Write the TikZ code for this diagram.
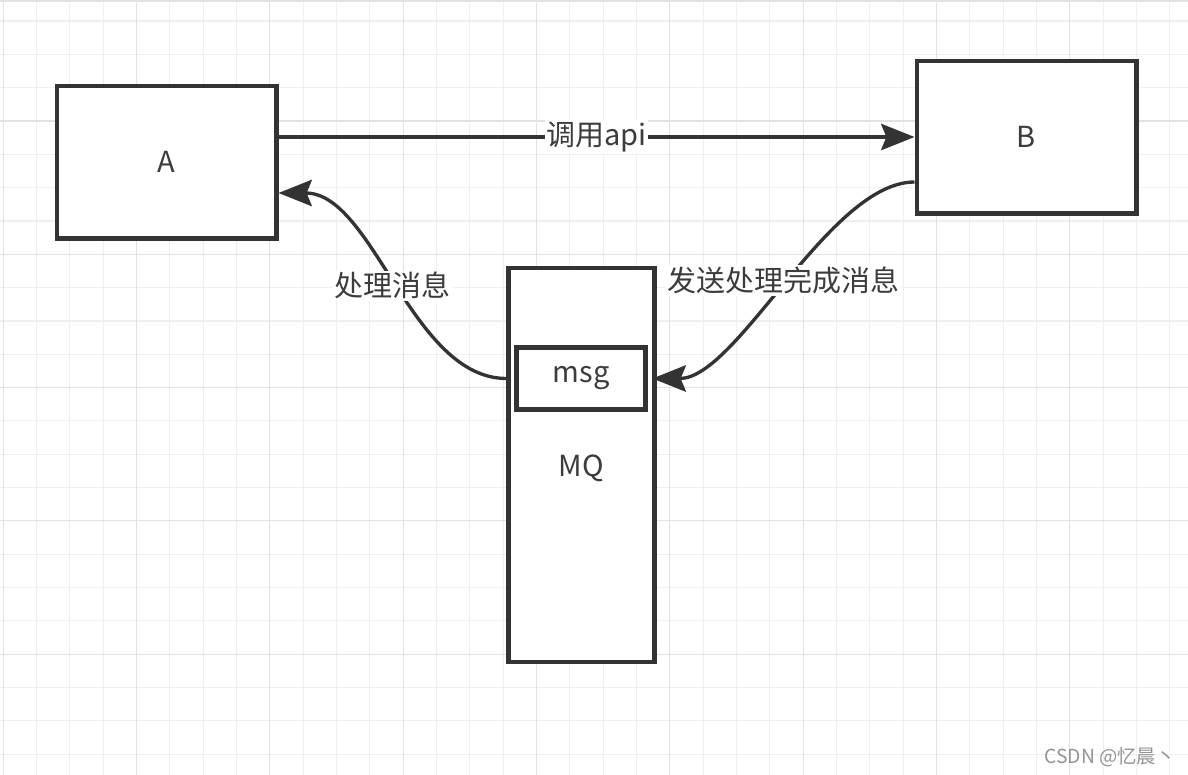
\documentclass[tikz,border=0pt]{standalone}
\usepackage{fontspec}
\setmainfont{Noto Sans CJK SC}
\usepackage{xcolor}
\usetikzlibrary{arrows.meta, positioning, calc}
\definecolor{ink}{HTML}{333333}
\definecolor{inktext}{HTML}{3C3C3C}
\definecolor{gridminor}{HTML}{EFEFEF}
\definecolor{gridmajor}{HTML}{E2E2E2}

\begin{document}
\begin{tikzpicture}[
    x=0.02cm, y=-0.02cm,
    box/.style={draw=ink, line width=2.3pt, fill=white, text=inktext, inner sep=0pt, font=\fontsize{16.5}{19}\selectfont},
    arrow/.style={draw=ink, line width=1.9pt, -{Stealth[length=19pt, width=15pt, inset=3pt]}},
    edgelabel/.style={fill=white, text=inktext, inner sep=1pt, font=\fontsize{16.5}{19}\selectfont},
    minorline/.style={draw=gridminor, line width=0.6pt},
    majorline/.style={draw=gridmajor, line width=0.6pt}
]

% page and background grid
\fill[white] (0,0) rectangle (1188,775);
\useasboundingbox (0,0) rectangle (1188,775);
\foreach \k in {0,...,35} \draw[minorline] (3.3+33.33*\k,0) -- (3.3+33.33*\k,775);
\foreach \k in {0,...,22} \draw[minorline] (0,21+33.33*\k) -- (1188,21+33.33*\k);
\foreach \k in {0,4,...,32} \draw[majorline] (3.3+33.33*\k,0) -- (3.3+33.33*\k,775);
\foreach \k in {3,7,...,19} \draw[majorline] (0,21+33.33*\k) -- (1188,21+33.33*\k);
\draw[majorline] (0,1) -- (1188,1);

% boxes
\node[box, minimum width=4.4cm, minimum height=3.06cm] (A) at (166.5,162) {A};
\node[box, minimum width=4.4cm, minimum height=3.06cm] (B) at (1026.5,137) {B};
\node[box, minimum width=2.92cm, minimum height=7.9cm] (mq) at (581.5,465) {};
\node[text=inktext, font=\fontsize{16.5}{19}\selectfont] (mqlabel) at (581.5,468) {MQ};
\node[box, minimum width=2.58cm, minimum height=1.24cm] (msg) at (581,378.5) {msg};

% connectors
\draw[arrow] (A.east |- B.west) -- node[edgelabel] (call) {调用api} (B.west);
\draw[arrow] (mq.west |- msg.west) .. controls +(-95,0) and +(95,0) .. ($(A.east)+(0,31)$)
    node[edgelabel, pos=0.5] (handle) {处理消息};
\coordinate (bout) at ($(B.west)+(0,45)$);
\draw[arrow] (bout) .. controls +(-85,0) and +(85,0) .. ($(msg.east)+(5,0)$)
    node[edgelabel, pos=0.5] (send) {发送处理完成消息};

% watermark
\node[text=black!42, font=\fontsize{11}{13}\selectfont] (mark) at (1110,757) {CSDN @忆晨丶};

\end{tikzpicture}
\end{document}
